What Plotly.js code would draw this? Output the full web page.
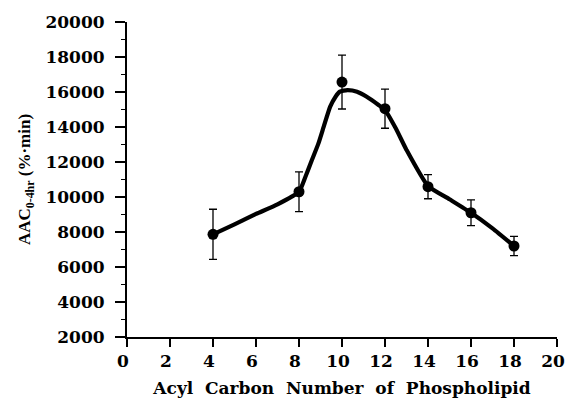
<!DOCTYPE html>
<html>
<head>
<meta charset="utf-8">
<script src="https://cdn.plot.ly/plotly-3.0.1.min.js"></script>
<style>html,body{margin:0;padding:0;background:#fff;}#chart{width:566px;height:404px;}</style>
</head>
<body>
<div id="chart"></div>
<script>
// Measured data points (acyl carbon number vs AAC 0-4hr)
const carbonNumber = [4, 8, 10, 12, 14, 16, 18];
const aacValues = [7870, 10300, 16570, 15050, 10590, 9100, 7200];
const aacErrors = [1430, 1140, 1540, 1120, 690, 740, 550];

// Smooth fitted curve
const curveX = [4, 5, 6, 7, 8, 8.3, 8.6, 8.9, 9.15, 9.45, 9.7, 9.9, 10.25, 10.7, 11.15, 11.7, 12, 12.5, 13, 14, 15, 16, 17, 18];
const curveY = [7870, 8440, 9030, 9580, 10300, 11160, 12110, 13050, 14020, 15160, 15730, 16020, 16110, 16020, 15730, 15260, 14970, 13930, 12690, 10630, 9870, 9100, 8210, 7200];

const xTicks = [0, 2, 4, 6, 8, 10, 12, 14, 16, 18, 20];
const yTicks = [2000, 4000, 6000, 8000, 10000, 12000, 14000, 16000, 18000, 20000];

const wideFont = '"DejaVu Serif", "Liberation Serif", serif';
const timesFont = '"Liberation Serif", "DejaVu Serif", serif';

const traces = [
  {
    x: curveX, y: curveY, type: 'scatter', mode: 'lines',
    line: {color: '#000', width: 4.2, shape: 'spline', smoothing: 0.5},
    hoverinfo: 'skip', showlegend: false
  },
  {
    x: carbonNumber, y: aacValues, type: 'scatter', mode: 'markers',
    marker: {color: '#000', size: 11},
    error_y: {type: 'data', array: aacErrors, visible: true, color: '#000', thickness: 1.3, width: 4},
    showlegend: false
  }
];

const layout = {
  width: 566, height: 404,
  margin: {l: 127, r: 9, t: 22, b: 67},
  paper_bgcolor: '#fff', plot_bgcolor: '#fff',
  font: {family: wideFont, color: '#000', size: 17, weight: 'bold'},
  xaxis: {
    range: [0, 20], tickvals: xTicks, ticktext: xTicks.map(String),
    showgrid: false, zeroline: false, showline: true, linecolor: '#000', linewidth: 2,
    ticks: 'outside', ticklen: 8, tickwidth: 1.5, tickcolor: '#000',
    ticklabeloverflow: 'allow', ticklabelshift: -4,
    tickfont: {family: wideFont, size: 17, weight: 'bold', color: '#000'},
    title: {text: 'Acyl  Carbon  Number  of  Phospholipid', standoff: 12,
            font: {family: wideFont, size: 17, weight: 'bold', color: '#000'}},
    automargin: false, fixedrange: true
  },
  yaxis: {
    range: [2000, 20000], tickvals: yTicks, ticktext: yTicks.map(String),
    showgrid: false, zeroline: false, showline: true, linecolor: '#000', linewidth: 2,
    ticks: 'outside', ticklen: 10, tickwidth: 1.5, tickcolor: '#000',
    ticklabelstandoff: 7, ticklabeloverflow: 'allow',
    minor: {dtick: 1000, ticks: 'outside', ticklen: 4, tickwidth: 1.2, tickcolor: '#000', showgrid: false},
    tickfont: {family: wideFont, size: 17, weight: 'bold', color: '#000'},
    title: {text: 'AAC<sub>0-4hr</sub> (%·min)', standoff: 10,
            font: {family: timesFont, size: 17, weight: 'bold', color: '#000'}},
    automargin: false, fixedrange: true
  }
};

Plotly.newPlot('chart', traces, layout, {displayModeBar: false, staticPlot: true});
</script>
</body>
</html>
